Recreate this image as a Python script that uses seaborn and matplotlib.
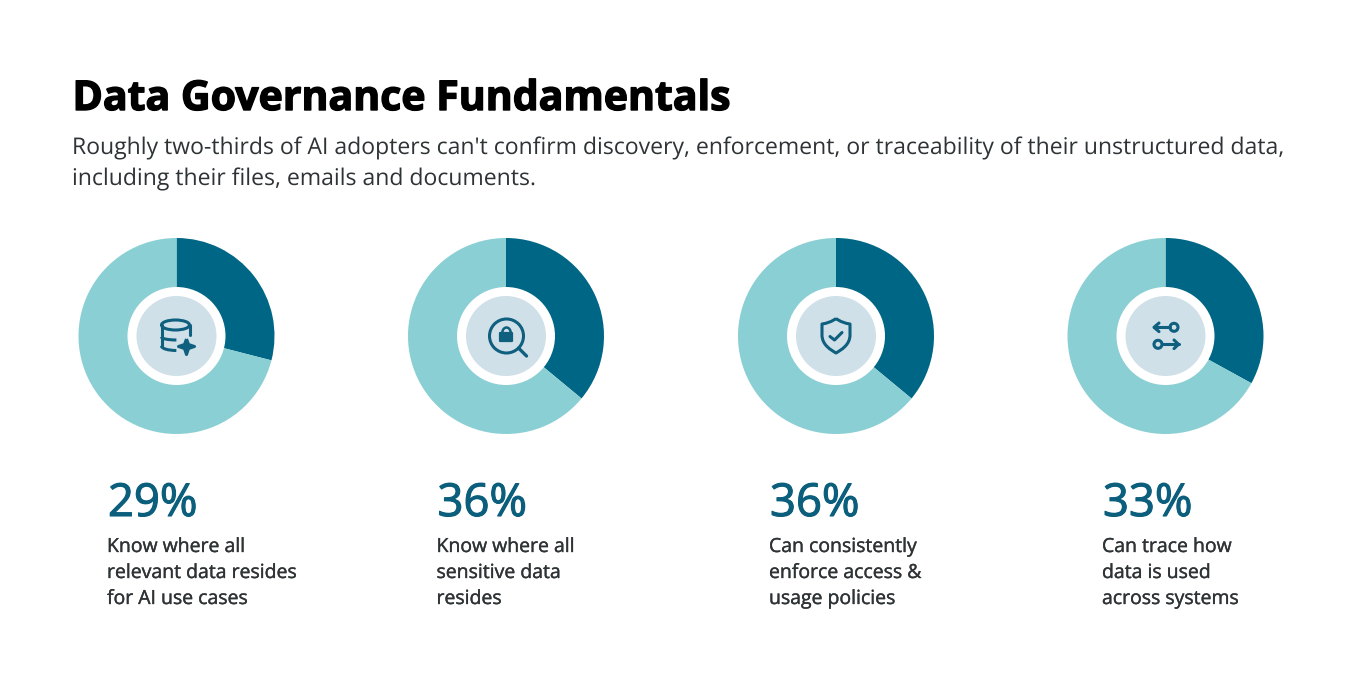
import matplotlib
matplotlib.use("Agg")
import matplotlib.pyplot as plt
import matplotlib.patheffects as pe
import seaborn as sns
from matplotlib.patches import Circle, Ellipse, PathPatch, Rectangle, Arc
from matplotlib.path import Path

W, H = 1346, 696
DARK, LIGHT, PALE, INK, ICON, TEAL = "#006685", "#8ACFD4", "#CFE0E8", "#2E3335", "#0F5F7F", "#0B5F7C"

TITLE = "Data Governance Fundamentals"
SUBTITLE = ["Roughly two-thirds of AI adopters can't confirm discovery, enforcement, or traceability of their unstructured data,",
            "including their files, emails and documents."]
percentages = [29, 36, 36, 33]
remainders = [100 - p for p in percentages]
labels = [["Know where all", "relevant data resides", "for AI use cases"],
          ["Know where all", "sensitive data", "resides"],
          ["Can consistently", "enforce access &", "usage policies"],
          ["Can trace how", "data is used", "across systems"]]
icons = ["database", "search", "shield", "flow"]
centers_x = [176.5, 506, 836, 1165.5]
text_x = [107, 436.5, 769, 1102]
LW = 2.2

sns.set_theme(style="white")
plt.rcParams["font.family"] = ["Open Sans", "DejaVu Sans"]
plt.rcParams["text.hinting"] = "no_hinting"
fig = plt.figure(figsize=(W / 100, H / 100), dpi=100, facecolor="white")


def txt(x, y, s, stroke=0, **kw):
    t = fig.text(x / W, 1 - y / H, s, va="baseline", ha="left", **kw)
    if stroke:
        t.set_path_effects([pe.withStroke(linewidth=stroke, foreground=kw.get("color"))])


def line(ax, xs, ys, lw=LW):
    ax.plot(xs, ys, color=ICON, lw=lw, solid_capstyle="round", solid_joinstyle="round", zorder=5)


def draw_icon(ax, kind):
    st = dict(fill=False, ec=ICON, lw=LW, zorder=5)
    if kind == "database":
        ax.add_patch(Ellipse((-1, 11), 28, 10, **st))
        line(ax, [-15, -15], [11, -10])
        ax.add_patch(Arc((0, -10), 30, 9, theta1=180, theta2=268, **st))
        ax.add_patch(Arc((0, -1), 30, 6, theta1=180, theta2=268, **st))
        line(ax, [13, 13], [11, 1])
        star = Path([(10, -3), (12, -8.5), (18, -10.5), (12, -12.5), (10, -18.5), (8, -12.5), (2, -10.5), (8, -8.5), (10, -3)])
        ax.add_patch(PathPatch(star, fc=ICON, ec=ICON, lw=2.2, joinstyle="round", zorder=5))
    elif kind == "search":
        ax.add_patch(Circle((0.5, 0), 17, **st))
        line(ax, [12.5, 20.5], [-12, -20], lw=2.4)
        ax.add_patch(Rectangle((-5.5, -5), 12, 8, fc=ICON, ec=ICON, lw=1.6, joinstyle="round", zorder=5))
        ax.add_patch(Arc((0.5, 3), 8.5, 11, theta1=0, theta2=180, fill=False, ec=ICON, lw=1.8, zorder=5))
    elif kind == "shield":
        shield = Path([(0, 17.5), (-6, 13), (-14, 12), (-14, 1),
                       (-14, -9), (-5, -14), (0, -17), (5, -14), (14, -9), (14, 1),
                       (14, 12), (6, 13), (0, 17.5)],
                      [Path.MOVETO, Path.CURVE3, Path.CURVE3, Path.LINETO,
                       Path.CURVE4, Path.CURVE4, Path.CURVE4, Path.CURVE4, Path.CURVE4, Path.CURVE4,
                       Path.LINETO, Path.CURVE3, Path.CURVE3])
        ax.add_patch(PathPatch(shield, fill=False, ec=ICON, lw=LW, joinstyle="round", zorder=5))
        line(ax, [-6, -1.5, 6], [-0.5, -4, 3.5])
    else:
        line(ax, [-11.5, 4.5], [8.7, 8.7])
        line(ax, [-6.5, -11.5, -6.5], [13, 8.7, 4.4])
        ax.add_patch(Circle((8.5, 8.7), 4, **st))
        line(ax, [-3.5, 13], [-8.3, -8.3])
        line(ax, [8.5, 13, 8.5], [-4, -8.3, -12.6])
        ax.add_patch(Circle((-7.5, -8.3), 4, **st))


txt(72.5, 110, TITLE, fontsize=29.55, fontweight="bold", color="#000000", stroke=1.0)
for y, s in zip([154, 185], SUBTITLE):
    txt(72, y, s, fontsize=16.55, color=INK)

for cx, pct, rem, tx, lab, icon in zip(centers_x, percentages, remainders, text_x, labels, icons):
    ax = fig.add_axes([(cx - 100) / W, 1 - (336 + 100) / H, 200 / W, 200 / H])
    ax.pie([pct, rem], colors=[DARK, LIGHT], startangle=90, counterclock=False, radius=98,
           wedgeprops=dict(linewidth=0))
    ax.add_patch(Circle((0, 0), 49, fc="white", ec="none", zorder=3))
    ax.add_patch(Circle((0, 0), 40, fc=PALE, ec="none", zorder=3))
    ax.set_xlim(-100, 100)
    ax.set_ylim(-100, 100)
    ax.set_aspect("equal")
    ax.axis("off")
    draw_icon(ax, icon)
    txt(tx + 1, 516, f"{pct}%", fontsize=32.7, color=TEAL, stroke=0.8)
    for y, s in zip([552, 578, 604], lab):
        txt(tx, y, s, fontsize=14, color=INK, stroke=0.25)

fig.savefig("out.png", dpi=100, facecolor="white")
